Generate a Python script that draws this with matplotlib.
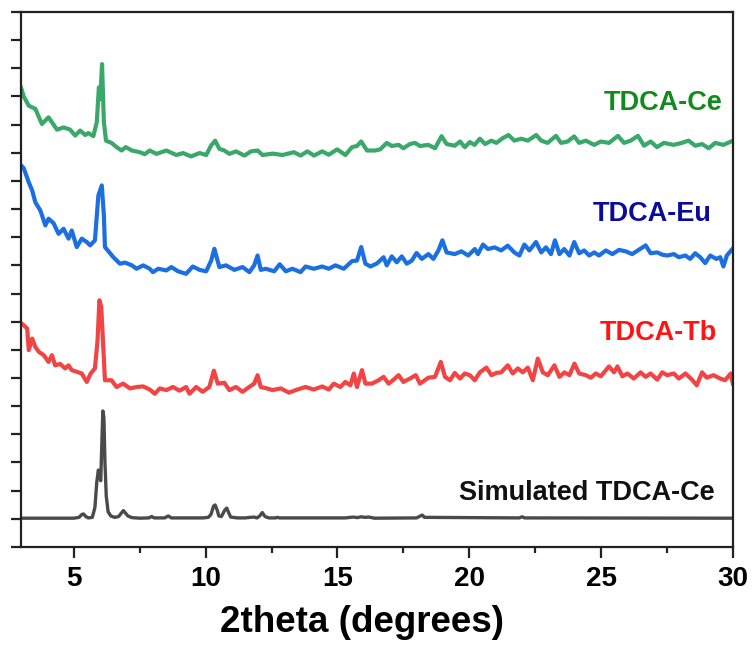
import matplotlib
matplotlib.use("Agg")
import matplotlib.pyplot as plt
import numpy as np
from matplotlib.ticker import MultipleLocator

plt.rcParams['font.family'] = ['Liberation Sans', 'DejaVu Sans']
plt.rcParams['font.weight'] = 'bold'

# (2theta, stacked intensity)
ce_pts = [(3.0, 16.3), (3.1, 16.0), (3.29, 15.67), (3.54, 15.56), (3.79, 15.02), (4.04, 15.26),
          (4.36, 14.82), (4.61, 14.9), (4.86, 14.82), (5.05, 14.61), (5.24, 14.79), (5.43, 14.63),
          (5.55, 14.7), (5.74, 14.59), (5.87, 15.08), (5.95, 16.32), (6.0, 15.9), (6.07, 17.15),
          (6.14, 15.08), (6.22, 14.43), (6.43, 14.35), (6.62, 14.2), (6.81, 14.08), (6.97, 14.2),
          (7.2, 14.08), (7.5, 14.02), (7.69, 13.95), (7.88, 14.08), (8.13, 13.96), (8.51, 14.08),
          (8.89, 13.92), (9.14, 13.99), (9.45, 13.87), (9.77, 13.99), (10.02, 13.92), (10.21, 14.26),
          (10.36, 14.43), (10.52, 14.14), (10.71, 14.08), (10.9, 13.96), (11.15, 14.05), (11.47, 13.9),
          (11.72, 14.05), (11.97, 14.08), (12.16, 13.92), (12.54, 13.97), (12.91, 13.92), (13.35, 14.02),
          (13.6, 13.9), (13.86, 14.05), (14.11, 13.9), (14.42, 14.05), (14.67, 13.93), (14.99, 14.12),
          (15.3, 13.92), (15.55, 14.2), (15.74, 14.24), (15.9, 14.4), (16.12, 14.08), (16.43, 14.08),
          (16.62, 14.12), (16.87, 14.35), (17.06, 14.24), (17.32, 14.28), (17.5, 14.16), (17.75, 14.31),
          (17.94, 14.35), (18.13, 14.24), (18.45, 14.28), (18.7, 14.16), (18.95, 14.59), (19.14, 14.31),
          (19.45, 14.25), (19.65, 14.4), (19.83, 14.2), (20.02, 14.38), (20.2, 14.28), (20.4, 14.5),
          (20.6, 14.31), (20.84, 14.43), (21.03, 14.35), (21.27, 14.52), (21.49, 14.63), (21.71, 14.43),
          (21.97, 14.5), (22.22, 14.43), (22.54, 14.63), (22.73, 14.43), (22.97, 14.35), (23.29, 14.6),
          (23.48, 14.35), (23.73, 14.4), (23.98, 14.58), (24.17, 14.35), (24.42, 14.43), (24.74, 14.28),
          (24.99, 14.4), (25.3, 14.35), (25.64, 14.6), (25.87, 14.35), (26.12, 14.43), (26.4, 14.6),
          (26.63, 14.25), (26.88, 14.4), (27.12, 14.2), (27.38, 14.35), (27.75, 14.28), (28.06, 14.35),
          (28.32, 14.43), (28.57, 14.25), (28.83, 14.31), (29.08, 14.16), (29.33, 14.35), (29.64, 14.28),
          (30.0, 14.43)]

eu_pts = [(3.0, 13.55), (3.1, 13.45), (3.29, 12.95), (3.42, 12.66), (3.54, 12.24), (3.73, 11.95),
          (3.92, 11.42), (4.04, 11.66), (4.23, 11.5), (4.42, 11.12), (4.61, 11.3), (4.8, 10.95),
          (4.92, 11.24), (5.11, 10.65), (5.3, 10.95), (5.49, 10.83), (5.62, 10.71), (5.8, 10.89),
          (5.93, 12.48), (6.06, 12.84), (6.14, 11.77), (6.18, 10.65), (6.5, 10.29), (6.75, 10.06),
          (6.94, 10.1), (7.2, 10.0), (7.38, 9.88), (7.63, 10.0), (7.88, 9.88), (8.0, 9.76), (8.2, 9.88),
          (8.51, 9.82), (8.7, 9.94), (8.95, 9.79), (9.26, 9.7), (9.51, 9.96), (9.77, 9.84), (10.02, 9.79),
          (10.21, 10.17), (10.33, 10.59), (10.52, 9.94), (10.77, 10.0), (11.09, 9.84), (11.4, 9.94),
          (11.66, 9.76), (11.84, 10.0), (11.97, 10.35), (12.09, 9.84), (12.28, 9.88), (12.6, 9.79),
          (12.81, 10.04), (13.04, 9.79), (13.29, 9.88), (13.6, 9.76), (13.79, 9.96), (14.1, 9.88),
          (14.42, 9.96), (14.67, 9.88), (14.92, 10.0), (15.24, 9.88), (15.55, 10.15), (15.74, 10.17),
          (15.9, 10.65), (16.06, 10.06), (16.25, 9.96), (16.5, 10.07), (16.75, 10.29), (16.87, 10.0),
          (17.06, 10.32), (17.25, 10.11), (17.44, 10.32), (17.63, 10.06), (17.82, 10.17), (18.0, 10.44),
          (18.2, 10.23), (18.45, 10.4), (18.64, 10.23), (18.83, 10.53), (18.98, 10.89), (19.14, 10.46),
          (19.45, 10.4), (19.7, 10.5), (19.96, 10.35), (20.21, 10.58), (20.33, 10.4), (20.52, 10.74),
          (20.71, 10.58), (20.96, 10.64), (21.21, 10.53), (21.46, 10.7), (21.71, 10.46), (21.9, 10.35),
          (22.09, 10.74), (22.28, 10.53), (22.53, 10.83), (22.73, 10.46), (22.91, 10.64), (23.1, 10.4),
          (23.25, 10.89), (23.42, 10.4), (23.6, 10.58), (23.8, 10.35), (23.98, 10.83), (24.17, 10.43),
          (24.36, 10.53), (24.55, 10.35), (24.74, 10.46), (24.92, 10.35), (25.18, 10.53), (25.43, 10.4),
          (25.68, 10.55), (25.93, 10.5), (26.18, 10.4), (26.43, 10.55), (26.69, 10.71), (26.88, 10.43),
          (27.13, 10.46), (27.32, 10.38), (27.51, 10.35), (27.76, 10.4), (27.95, 10.29), (28.2, 10.35),
          (28.38, 10.23), (28.57, 10.43), (28.76, 10.29), (28.95, 10.08), (29.14, 10.35), (29.37, 10.23),
          (29.52, 10.29), (29.64, 9.96), (29.77, 10.35), (30.0, 10.6)]

tb_pts = [(3.0, 7.95), (3.1, 7.87), (3.23, 7.76), (3.29, 6.99), (3.42, 7.4), (3.54, 7.1), (3.67, 6.93),
          (3.86, 6.81), (4.04, 6.57), (4.17, 6.81), (4.29, 6.45), (4.48, 6.5), (4.67, 6.34), (4.8, 6.45),
          (4.92, 6.28), (5.11, 6.22), (5.3, 6.16), (5.49, 5.86), (5.64, 6.16), (5.8, 6.34), (5.9, 7.34),
          (5.97, 8.76), (6.04, 8.52), (6.12, 7.0), (6.18, 5.92), (6.43, 5.92), (6.62, 5.68), (6.87, 5.8),
          (7.13, 5.63), (7.38, 5.68), (7.63, 5.7), (7.88, 5.59), (8.07, 5.44), (8.26, 5.63), (8.51, 5.57),
          (8.76, 5.68), (9.01, 5.55), (9.26, 5.68), (9.39, 5.44), (9.64, 5.68), (9.89, 5.51), (10.14, 5.68),
          (10.31, 6.26), (10.46, 5.8), (10.71, 5.83), (10.9, 5.57), (11.15, 5.68), (11.4, 5.51),
          (11.65, 5.68), (11.84, 5.8), (11.97, 6.1), (12.09, 5.68), (12.28, 5.64), (12.54, 5.57),
          (12.85, 5.63), (13.16, 5.48), (13.48, 5.59), (13.79, 5.68), (14.1, 5.59), (14.42, 5.7),
          (14.67, 5.59), (14.86, 5.8), (15.11, 5.68), (15.3, 5.86), (15.49, 5.74), (15.62, 6.16),
          (15.74, 5.68), (15.93, 6.28), (16.06, 5.8), (16.31, 5.8), (16.56, 5.92), (16.75, 6.04),
          (16.94, 5.8), (17.13, 5.94), (17.32, 6.1), (17.5, 5.86), (17.75, 5.98), (17.97, 6.1),
          (18.13, 5.8), (18.45, 6.01), (18.7, 6.04), (18.92, 6.57), (19.08, 6.04), (19.27, 5.92),
          (19.45, 6.18), (19.65, 5.98), (19.83, 6.16), (20.02, 6.1), (20.21, 5.92), (20.4, 6.2),
          (20.65, 6.37), (20.84, 6.1), (21.03, 6.18), (21.21, 6.2), (21.46, 6.45), (21.65, 6.16),
          (21.84, 6.34), (22.03, 6.2), (22.22, 6.37), (22.41, 5.92), (22.6, 6.69), (22.79, 6.2),
          (22.98, 6.1), (23.23, 6.45), (23.42, 6.04), (23.61, 6.2), (23.8, 6.1), (23.99, 6.51),
          (24.17, 6.16), (24.42, 6.1), (24.61, 6.01), (24.8, 6.16), (24.99, 6.06), (25.3, 6.41),
          (25.49, 6.2), (25.62, 6.41), (25.81, 6.06), (26.0, 6.16), (26.24, 5.98), (26.5, 6.2),
          (26.69, 6.04), (26.88, 6.16), (27.13, 5.94), (27.32, 6.2), (27.51, 6.1), (27.76, 6.16),
          (27.95, 5.98), (28.2, 6.16), (28.45, 5.94), (28.63, 5.74), (28.83, 6.2), (29.01, 6.01),
          (29.26, 6.1), (29.52, 5.98), (29.7, 5.92), (29.92, 6.16), (30.0, 5.8)]

sim_pts = [(3.0, 1.02), (5.0, 1.02), (5.2, 1.05), (5.3, 1.15), (5.37, 1.17), (5.45, 1.08), (5.55, 1.03),
           (5.7, 1.05), (5.8, 1.4), (5.87, 2.3), (5.93, 2.73), (5.98, 2.5), (6.02, 2.35), (6.06, 3.6),
           (6.1, 4.83), (6.14, 4.6), (6.18, 3.0), (6.23, 1.8), (6.3, 1.25), (6.4, 1.1), (6.55, 1.05),
           (6.7, 1.08), (6.8, 1.2), (6.88, 1.29), (6.96, 1.2), (7.05, 1.1), (7.2, 1.04), (7.5, 1.02),
           (7.85, 1.03), (7.95, 1.08), (8.05, 1.03), (8.45, 1.03), (8.58, 1.1), (8.7, 1.03), (9.9, 1.03),
           (10.1, 1.05), (10.2, 1.15), (10.3, 1.45), (10.36, 1.49), (10.44, 1.3), (10.5, 1.1), (10.6, 1.08),
           (10.72, 1.3), (10.8, 1.38), (10.88, 1.2), (10.95, 1.06), (11.2, 1.03), (11.5, 1.03), (11.7, 1.05),
           (11.83, 1.06), (11.95, 1.03), (12.05, 1.1), (12.15, 1.22), (12.25, 1.08), (12.4, 1.03),
           (12.65, 1.03), (12.72, 1.05), (12.8, 1.03), (15.3, 1.03), (15.6, 1.06), (15.75, 1.04),
           (15.9, 1.07), (16.05, 1.05), (16.2, 1.06), (16.4, 1.02), (18.0, 1.03), (18.15, 1.1),
           (18.22, 1.13), (18.3, 1.05), (21.9, 1.03), (22.0, 1.07), (22.1, 1.03), (30.0, 1.02)]

names = ["TDCA-Ce", "TDCA-Eu", "TDCA-Tb", "Simulated TDCA-Ce"]
series = [ce_pts, eu_pts, tb_pts, sim_pts]
line_colors = ["#3aa86a", "#1c6fe0", "#f24444", "#4a4a4a"]
text_colors = ["#138a1e", "#0a0a9e", "#ff1414", "#111111"]
label_y = [15.78, 11.84, 7.59, 1.91]
label_right = [29.6, 29.2, 29.4, 29.3]
widths = [3.0, 3.0, 3.0, 2.4]

fig = plt.figure(figsize=(7.54, 6.48), dpi=100)
ax = fig.add_axes([0.028, 0.156, 0.944, 0.8255])

for pts, name, lc, tc, ly, lr, lw in zip(series, names, line_colors, text_colors, label_y, label_right, widths):
    arr = np.array(pts)
    ax.plot(arr[:, 0], arr[:, 1], color=lc, lw=lw, solid_joinstyle='round')
    ax.text(lr, ly, name, color=tc, fontsize=19.5, fontweight='bold', ha='right', va='center')

ax.set_xlim(3, 30)
ax.set_ylim(0, 19)
ax.xaxis.set_major_locator(MultipleLocator(5))
ax.xaxis.set_minor_locator(MultipleLocator(2.5))
ax.yaxis.set_major_locator(MultipleLocator(1))
ax.set_yticklabels([])
ax.tick_params(axis='x', which='major', length=8, width=1.6, labelsize=20, pad=6, color='#222222')
ax.tick_params(axis='x', which='minor', length=4, width=1.6, color='#222222')
ax.tick_params(axis='y', which='major', length=7, width=1.6, color='#222222')
for lab in ax.get_xticklabels():
    lab.set_fontweight('bold')
for sp in ax.spines.values():
    sp.set_linewidth(1.6)
    sp.set_color('#222222')

ax.set_xlabel("2theta (degrees)", fontsize=26.5, fontweight='bold', labelpad=8)
ax.xaxis.set_label_coords(0.479, -0.108)

fig.savefig("out.png", dpi=100)
